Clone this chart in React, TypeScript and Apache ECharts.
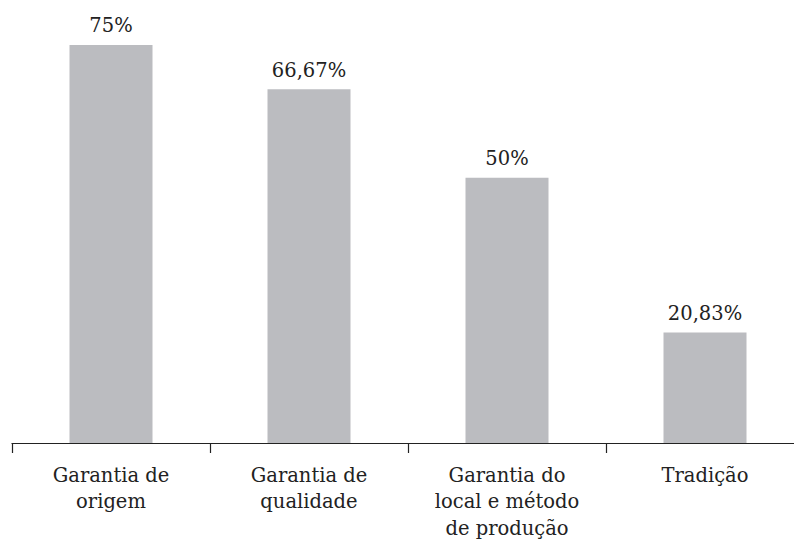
import React, { useEffect, useRef } from "react";
import * as echarts from "echarts";

const categories = [
  "Garantia de\norigem",
  "Garantia de\nqualidade",
  "Garantia do\nlocal e método\nde produção",
  "Tradição",
];
const values = [75, 66.67, 50, 20.83];
const valueLabels = ["75%", "66,67%", "50%", "20,83%"];

const FONT = "DejaVu Serif";

export default function App() {
  const ref = useRef<HTMLDivElement>(null);
  useEffect(() => {
    if (!ref.current) return;
    const chart = echarts.init(ref.current, null, { renderer: "svg" });
    chart.setOption({
      animation: false,
      textStyle: { fontFamily: FONT },
      grid: {
        left: 12,
        width: 792,
        top: 18.4,
        bottom: 97,
        containLabel: false,
        outerBoundsMode: "none",
      },
      xAxis: {
        type: "category",
        data: categories,
        axisLine: { show: true, lineStyle: { color: "#222", width: 1.2 } },
        axisTick: { show: true, length: 10, alignWithLabel: false, lineStyle: { color: "#222", width: 1.2 } },
        axisLabel: {
          color: "#222",
          fontFamily: FONT,
          fontSize: 19.5,
          lineHeight: 26.5,
          margin: 19,
          interval: 0,
        },
      },
      yAxis: {
        type: "value",
        min: 0,
        max: 80,
        show: false,
        splitLine: { show: false },
      },
      series: [
        {
          type: "bar",
          data: values,
          barWidth: 83,
          itemStyle: { color: "#bbbcc0" },
          label: {
            show: true,
            position: "top",
            distance: 9,
            color: "#222",
            fontFamily: FONT,
            fontSize: 19.5,
            formatter: (p: any) => valueLabels[p.dataIndex],
          },
        },
      ],
    });
    return () => chart.dispose();
  }, []);
  return <div ref={ref} style={{ width: 794, height: 540, position: "absolute", left: 0, top: 0 }} />;
}
